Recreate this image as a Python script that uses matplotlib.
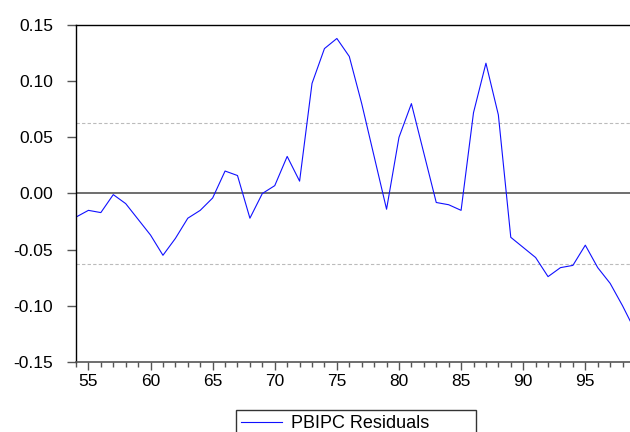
import matplotlib
matplotlib.use("Agg")
import matplotlib.pyplot as plt
from matplotlib.ticker import MultipleLocator

plt.rcParams['font.family'] = ['Liberation Sans', 'DejaVu Sans']

years = list(range(54, 100))
resid = [-0.021, -0.015, -0.017, -0.001, -0.009, -0.023, -0.037, -0.055, -0.040, -0.022,
         -0.015, -0.004, 0.020, 0.016, -0.022, 0.000, 0.007, 0.033, 0.011, 0.098,
         0.129, 0.138, 0.122, 0.080, 0.033, -0.014, 0.050, 0.080, 0.036, -0.008,
         -0.010, -0.015, 0.072, 0.116, 0.070, -0.039, -0.048, -0.057, -0.074, -0.066,
         -0.064, -0.046, -0.066, -0.080, -0.100, -0.122]
band = 0.063
yticks = [-0.15, -0.10, -0.05, 0.00, 0.05, 0.10, 0.15]
xticks = [55, 60, 65, 70, 75, 80, 85, 90, 95]

fig = plt.figure(figsize=(6.3, 4.32), dpi=100)
ax = fig.add_axes([76 / 630, 1 - 362 / 432, (635 - 76) / 630, 337 / 432])

ax.axhline(0, color='#555555', lw=1.2, zorder=1)
ax.axhline(band, color='#bbbbbb', lw=0.8, ls=(0, (3, 2)), zorder=1)
ax.axhline(-band, color='#bbbbbb', lw=0.8, ls=(0, (3, 2)), zorder=1)
ax.plot(years, resid, color='#1010ff', lw=0.8, label='PBIPC Residuals', zorder=2)

ax.set_xlim(54, 99)
ax.set_ylim(-0.15, 0.15)
ax.set_yticks(yticks)
ax.set_yticklabels(['%.2f' % v for v in yticks])
ax.set_xticks(xticks)
ax.set_xticklabels([str(v) for v in xticks])
ax.xaxis.set_minor_locator(MultipleLocator(1))

ax.spines['right'].set_visible(False)
for s in ['top', 'left']:
    ax.spines[s].set_color('black')
    ax.spines[s].set_linewidth(1.0)
ax.spines['bottom'].set_color('#555555')
ax.spines['bottom'].set_linewidth(1.2)

ax.tick_params(axis='y', direction='out', length=6.5, width=1, color='#555555',
               labelsize=12.5, pad=10)
ax.tick_params(axis='x', which='major', direction='out', length=6, width=1,
               color='#555555', labelsize=12.5, pad=3)
ax.tick_params(axis='x', which='minor', direction='out', length=3.5, width=1,
               color='#555555')

fig.legend(loc='upper left',
           bbox_to_anchor=(235.5 / 630, 1 - 440 / 432, (476 - 235.5) / 630, 30 / 432),
           mode='expand', fontsize=13, frameon=True, fancybox=False,
           edgecolor='black', handlelength=2.3, handletextpad=0.5,
           borderpad=0.3, borderaxespad=0)

fig.savefig('out.png', dpi=100)
